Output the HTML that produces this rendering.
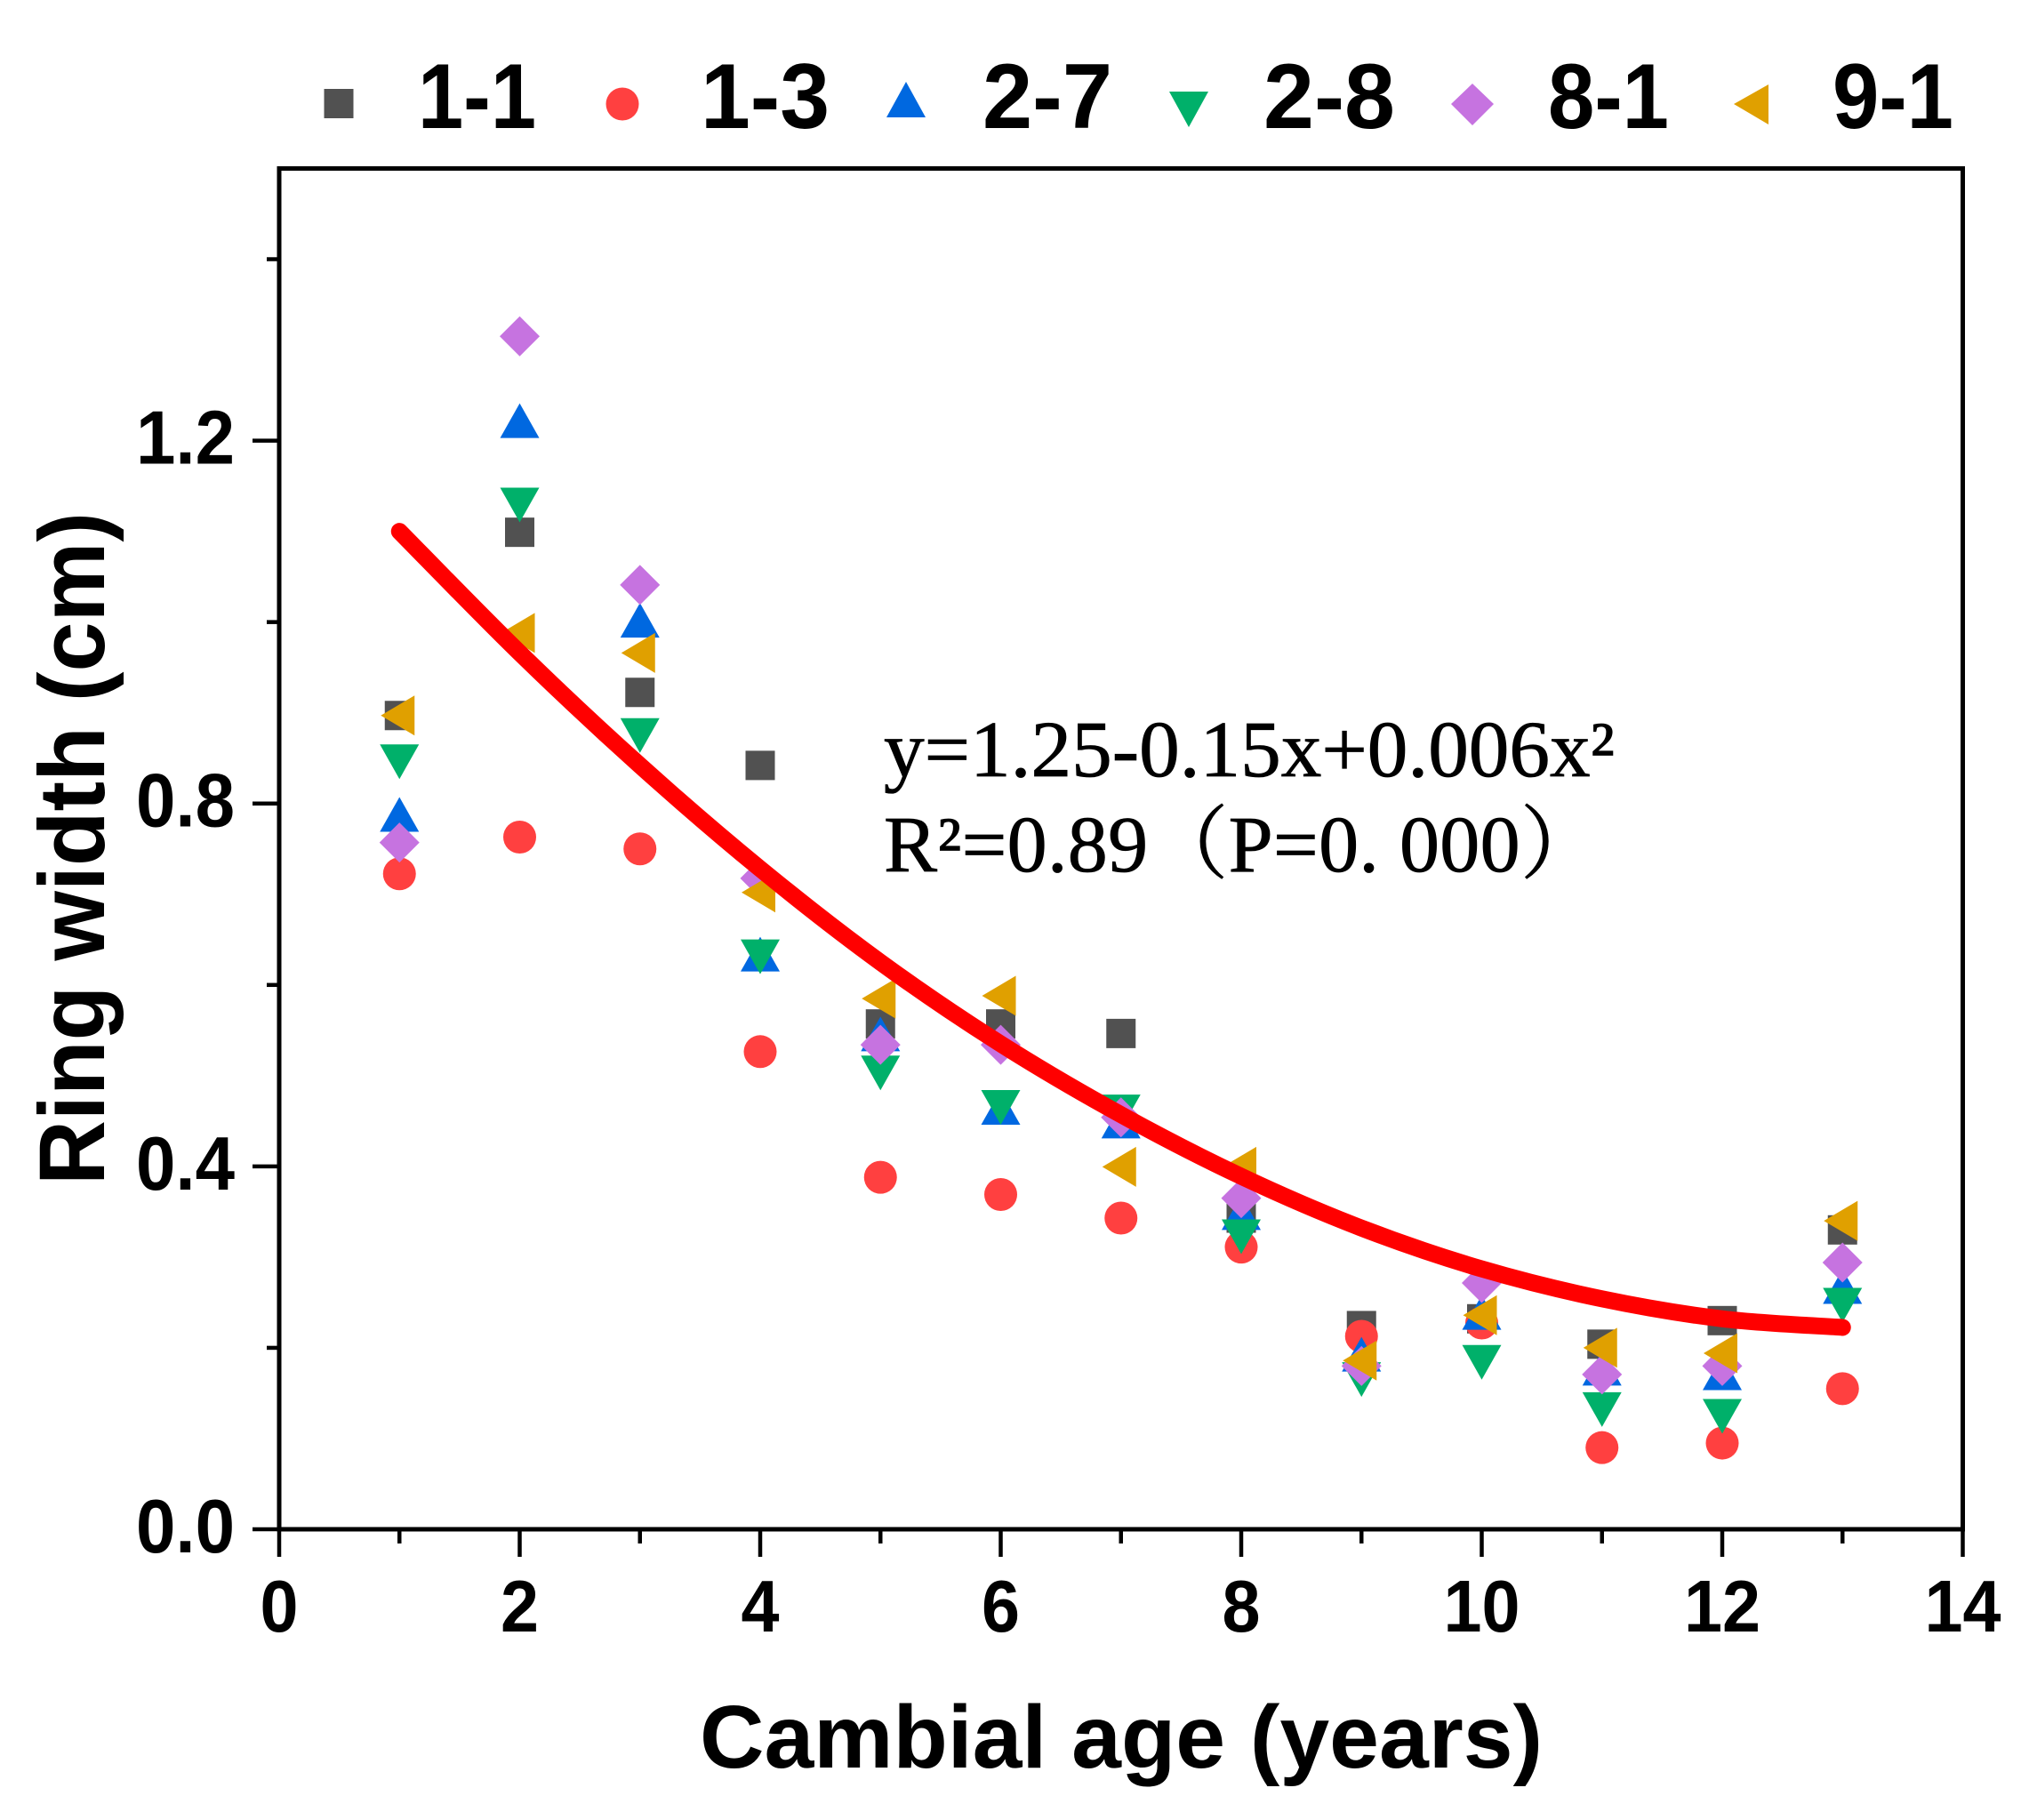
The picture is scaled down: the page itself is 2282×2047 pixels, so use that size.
<!DOCTYPE html>
<html lang="en">
<head>
<meta charset="utf-8">
<title>Ring width vs cambial age</title>
<style>
html,body{margin:0;padding:0;background:#fff;width:2282px;height:2047px;overflow:hidden}
svg{display:block}
.lab{font-family:"Liberation Sans",sans-serif;font-weight:700;fill:#000}
.eq{font-family:"Liberation Serif","Noto Serif CJK SC",serif;fill:#000;font-size:90px;stroke:#000;stroke-width:.8px}
</style>
</head>
<body>
<svg id="chart" xmlns="http://www.w3.org/2000/svg" width="2282" height="2047" viewBox="0 0 2282 2047">
  <rect x="0" y="0" width="2282" height="2047" fill="#fff"/>
  <g id="ticks"></g>
  <g id="tick-labels"></g>
  <g id="marks"></g>
  <path id="fit" fill="none" stroke="#ff0000" stroke-width="19" stroke-linecap="round" stroke-linejoin="round"/>
  <rect x="314" y="189.5" width="1893.5" height="1530.5" fill="none" stroke="#000" stroke-width="5"/>

  <g>
    <g>
      <rect x="364.5" y="100" width="33" height="33" fill="#515151"/>
      <text class="lab" x="470" y="144" font-size="104" textLength="133" lengthAdjust="spacingAndGlyphs">1-1</text>
    </g>
    <g>
      <circle cx="700" cy="117" r="18.5" fill="#ff4040"/>
      <text class="lab" x="788" y="144" font-size="104" textLength="145" lengthAdjust="spacingAndGlyphs">1-3</text>
    </g>
    <g>
      <polygon points="1019,92 1041,132 997,132" fill="#0068e0"/>
      <text class="lab" x="1105" y="144" font-size="104" textLength="146" lengthAdjust="spacingAndGlyphs">2-7</text>
    </g>
    <g>
      <polygon points="1315,103 1359,103 1337,143" fill="#00b06a"/>
      <text class="lab" x="1421" y="144" font-size="104" textLength="148" lengthAdjust="spacingAndGlyphs">2-8</text>
    </g>
    <g>
      <polygon points="1656,94 1680,117 1656,141 1632,117" fill="#c673e0"/>
      <text class="lab" x="1741" y="144" font-size="104" textLength="136" lengthAdjust="spacingAndGlyphs">8-1</text>
    </g>
    <g>
      <polygon points="1950,117 1989,95 1989,140" fill="#e0a000"/>
      <text class="lab" x="2061" y="144" font-size="104" textLength="136" lengthAdjust="spacingAndGlyphs">9-1</text>
    </g>
  </g>

  <text class="lab" x="787" y="1988" font-size="100" textLength="948" lengthAdjust="spacingAndGlyphs">Cambial age (years)</text>
  <text class="lab" transform="translate(117,1333) rotate(-90)" x="0" y="0" font-size="105" textLength="757" lengthAdjust="spacingAndGlyphs">Ring width (cm)</text>

  <text class="eq" x="994" y="873" textLength="822" lengthAdjust="spacingAndGlyphs">y=1.25-0.15x+0.006x²</text>
  <text class="eq" x="994" y="980" letter-spacing="0.3">R²=0.89（P=0. 000）</text>
</svg>
<script>
// Data
const ages = [1,2,3,4,5,6,7,8,9,10,11,12,13];
const series11 = [0.897,1.099,0.9225,0.842,0.557,0.557,0.5465,0.343,0.2245,0.232,0.204,0.23,0.33];
const series13 = [0.7225,0.763,0.75,0.5265,0.388,0.369,0.343,0.311,0.2127,0.2274,0.09,0.095,0.155];
const series27 = [0.788,1.222,1.002,0.634,0.546,0.465,0.45,0.349,0.193,0.239,0.1775,0.1725,0.2675];
const series28 = [0.846,1.129,0.875,0.631,0.503,0.465,0.46,0.3225,0.165,0.184,0.132,0.1245,0.247];
const series81 = [0.757,1.315,1.041,0.7175,0.534,0.534,0.454,0.365,0.18,0.2715,0.1706,0.18,0.294];
const series91 = [0.897,0.988,0.966,0.702,0.585,0.588,0.3995,0.3995,0.186,0.236,0.2,0.194,0.34];
const fitValues = [1.1,0.966,0.842,0.728,0.625,0.535,0.457,0.389,0.332,0.287,0.254,0.232,0.2225];
const xMajorTicks = [0,2,4,6,8,10,12,14];
const xMinorTicks = [1,3,5,7,9,11,13];
const yMajorTicks = [0,0.4,0.8,1.2];
const yMinorTicks = [0.2,0.6,1.0,1.4];
const yTickLabels = ['0.0','0.4','0.8','1.2'];

const NS = 'http://www.w3.org/2000/svg';
const plot = {left:314, right:2207.5, top:189.5, bottom:1720, xMax:14, yMax:1.5};
function xScale(v){ return plot.left + v/plot.xMax*(plot.right-plot.left); }
function yScale(v){ return plot.bottom - v/plot.yMax*(plot.bottom-plot.top); }

const tickGroup = document.getElementById('ticks');
const labelGroup = document.getElementById('tick-labels');
const markGroup = document.getElementById('marks');

function addTick(x1,y1,x2,y2,name){
  const el = document.createElementNS(NS,'line');
  el.setAttribute('x1',x1); el.setAttribute('y1',y1);
  el.setAttribute('x2',x2); el.setAttribute('y2',y2);
  el.setAttribute('stroke','#000'); el.setAttribute('stroke-width','4.5');
  
  
  tickGroup.appendChild(el);
}
xMajorTicks.forEach(function(v){ addTick(xScale(v),plot.bottom,xScale(v),1751,'x-major-tick-'+v); });
xMinorTicks.forEach(function(v){ addTick(xScale(v),plot.bottom,xScale(v),1736,'x-minor-tick-'+v); });
yMajorTicks.forEach(function(v){ addTick(284,yScale(v),plot.left,yScale(v),'y-major-tick-'+v); });
yMinorTicks.forEach(function(v){ addTick(300,yScale(v),plot.left,yScale(v),'y-minor-tick-'+v); });

xMajorTicks.forEach(function(v){
  const el = document.createElementNS(NS,'text');
  const s = String(v);
  el.setAttribute('class','lab');
  el.setAttribute('x',xScale(v)-s.length*21.5);
  el.setAttribute('y',1835);
  el.setAttribute('font-size','83');
  el.setAttribute('textLength',s.length*43);
  el.setAttribute('lengthAdjust','spacingAndGlyphs');
  
  
  el.textContent = s;
  labelGroup.appendChild(el);
});
yMajorTicks.forEach(function(v,i){
  const el = document.createElementNS(NS,'text');
  el.setAttribute('class','lab');
  el.setAttribute('x',153);
  el.setAttribute('y',yScale(v)+26);
  el.setAttribute('font-size','85');
  el.setAttribute('textLength','111');
  el.setAttribute('lengthAdjust','spacingAndGlyphs');
  
  
  el.textContent = yTickLabels[i];
  labelGroup.appendChild(el);
});

function drawMark(shape,color,cx,cy){
  let el;
  if(shape==='square'){
    el = document.createElementNS(NS,'rect');
    el.setAttribute('x',cx-16.5); el.setAttribute('y',cy-16.5);
    el.setAttribute('width',33); el.setAttribute('height',33);
  } else if(shape==='circle'){
    el = document.createElementNS(NS,'circle');
    el.setAttribute('cx',cx); el.setAttribute('cy',cy); el.setAttribute('r',18.5);
  } else {
    el = document.createElementNS(NS,'polygon');
    let p;
    if(shape==='up') p=[[cx,cy-19.5],[cx+22,cy+19.5],[cx-22,cy+19.5]];
    if(shape==='down') p=[[cx-22,cy-19.5],[cx+22,cy-19.5],[cx,cy+19.5]];
    if(shape==='diamond') p=[[cx,cy-22.5],[cx+22.5,cy],[cx,cy+22.5],[cx-22.5,cy]];
    if(shape==='left') p=[[cx-21,cy],[cx+17,cy-22.5],[cx+17,cy+22.5]];
    el.setAttribute('points',p.map(function(q){return q.join(',');}).join(' '));
  }
  el.setAttribute('fill',color);
  return el;
}
const seriesList = [
  {key:'1-1',shape:'square',color:'#515151',values:series11},
  {key:'1-3',shape:'circle',color:'#ff4040',values:series13},
  {key:'2-7',shape:'up',color:'#0068e0',values:series27},
  {key:'2-8',shape:'down',color:'#00b06a',values:series28},
  {key:'8-1',shape:'diamond',color:'#c673e0',values:series81},
  {key:'9-1',shape:'left',color:'#e0a000',values:series91}
];
seriesList.forEach(function(s){
  const g = document.createElementNS(NS,'g');
  
  
  s.values.forEach(function(v,i){
    const el = drawMark(s.shape,s.color,xScale(ages[i]),yScale(v));
    
    
    g.appendChild(el);
  });
  markGroup.appendChild(g);
});

// Smooth curve through the values read for the fitted line
const pts = fitValues.map(function(v,i){ return [xScale(ages[i]),yScale(v)]; });
let d = 'M'+pts[0][0]+' '+pts[0][1];
for(let i=0;i<pts.length-1;i++){
  const p0=pts[Math.max(i-1,0)], p1=pts[i], p2=pts[i+1], p3=pts[Math.min(i+2,pts.length-1)];
  d += ' C'+(p1[0]+(p2[0]-p0[0])/6)+' '+(p1[1]+(p2[1]-p0[1])/6)+' '+(p2[0]-(p3[0]-p1[0])/6)+' '+(p2[1]-(p3[1]-p1[1])/6)+' '+p2[0]+' '+p2[1];
}
document.getElementById('fit').setAttribute('d',d);
</script>
</body>
</html>
